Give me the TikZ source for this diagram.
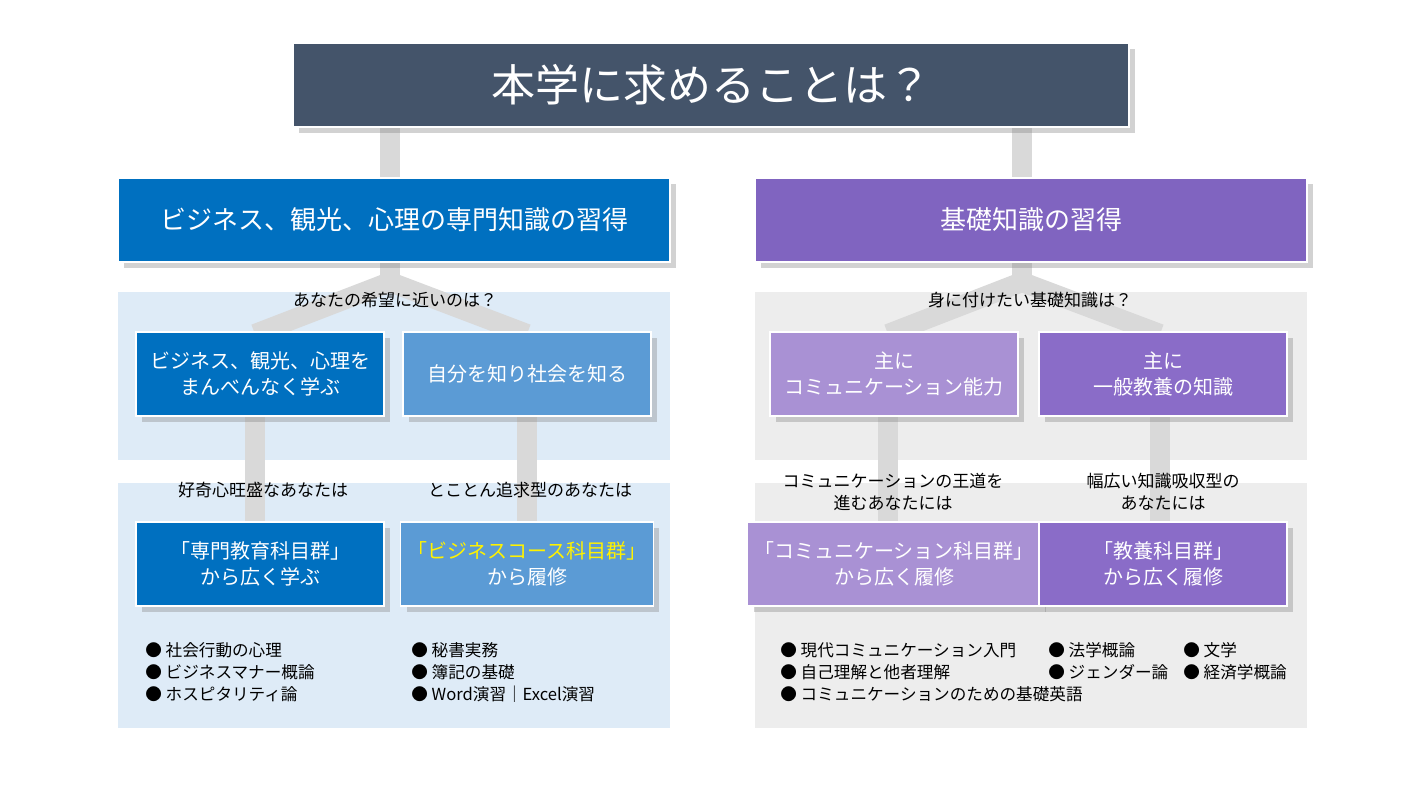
\documentclass[tikz,border=0pt]{standalone}
\usepackage{fontspec}
\setmainfont{Noto Sans CJK JP}
\usetikzlibrary{shadows}
\definecolor{slate}{HTML}{44546A}
\definecolor{bizblue}{HTML}{0070C0}
\definecolor{lightblue}{HTML}{5B9BD5}
\definecolor{purple1}{HTML}{8064C0}
\definecolor{purple2}{HTML}{A991D4}
\definecolor{purple3}{HTML}{8A6CC8}
\definecolor{panelblue}{HTML}{DEEBF7}
\definecolor{panelgray}{HTML}{EDEDED}
\definecolor{linkgray}{HTML}{D9D9D9}
\tikzstyle{titlebox} = [rectangle, draw=white, line width=0.6pt, fill=slate, text=white, minimum width=418pt, minimum height=42pt, font=\fontsize{22}{26}\selectfont, drop shadow={shadow xshift=3pt, shadow yshift=-3pt, opacity=0.35}]
\tikzstyle{mainbox} = [rectangle, draw=white, line width=0.6pt, text=white, minimum width=276pt, minimum height=42pt, font=\fontsize{13}{16}\selectfont, drop shadow={shadow xshift=3pt, shadow yshift=-3pt, opacity=0.35}]
\tikzstyle{subbox} = [rectangle, draw=white, line width=0.6pt, text=white, minimum width=124pt, minimum height=42pt, align=center, font=\fontsize{10}{13}\selectfont, drop shadow={shadow xshift=3pt, shadow yshift=-3pt, opacity=0.35}]
\tikzstyle{panel} = [rectangle, draw=none, minimum width=276pt, anchor=north]
\tikzstyle{label} = [align=center, font=\fontsize{8.5}{11}\selectfont]
\tikzstyle{bullets} = [align=left, anchor=north west, inner sep=0pt, font=\fontsize{8.3}{11}\selectfont]
\tikzstyle{link} = [linkgray, line width=10pt]
\begin{document}
\begin{tikzpicture}[x=0.5pt, y=-0.5pt]
	\useasboundingbox[fill=white] (0,0) rectangle (1422,800);
	% panels
	\node (pLtop) [panel, fill=panelblue, minimum height=84pt] at (394,292) {};
	\node (pLbot) [panel, fill=panelblue, minimum height=122.5pt] at (394,483) {};
	\node (pRtop) [panel, fill=panelgray, minimum height=84pt] at (1031,292) {};
	\node (pRbot) [panel, fill=panelgray, minimum height=122.5pt] at (1031,483) {};
	
	% links
	\coordinate (forkL) at (390,282);
	\coordinate (forkR) at (1022,282);
	\draw [link] (390,128) -- (390,180);
	\draw [link] (1022,128) -- (1022,180);
	\draw [link] (390,260) -- (forkL);
	\draw [link] (forkL) -- (255,334);
	\draw [link] (forkL) -- (527,334);
	\draw [link] (1022,260) -- (forkR);
	\draw [link] (forkR) -- (888,334);
	\draw [link] (forkR) -- (1160,334);
	\draw [link] (255,414) -- (255,524);
	\draw [link] (527,414) -- (527,524);
	\draw [link] (888,414) -- (888,524);
	\draw [link] (1160,414) -- (1160,524);
	
	% boxes
	\node (title) [titlebox] at (711,85) {本学に求めることは？};
	\node (biz) [mainbox, fill=bizblue] at (394,220) {ビジネス、観光、心理の専門知識の習得};
	\node (basic) [mainbox, fill=purple1] at (1031,220) {基礎知識の習得};
	
	\node (askL) [label] at (395,300) {あなたの希望に近いのは？};
	\node (askR) [label] at (1030,300) {身に付けたい基礎知識は？};
	
	\node (broad) [subbox, fill=bizblue] at (260,374) {ビジネス、観光、心理を\\まんべんなく学ぶ};
	\node (self) [subbox, fill=lightblue] at (527,374) {自分を知り社会を知る};
	\node (comm) [subbox, fill=purple2] at (894,374) {主に\\コミュニケーション能力};
	\node (gen) [subbox, fill=purple3] at (1163,374) {主に\\一般教養の知識};
	
	\node (curious) [label] at (263,490) {好奇心旺盛なあなたは};
	\node (deep) [label] at (530,490) {とことん追求型のあなたは};
	\node (royal) [label] at (893,492) {コミュニケーションの王道を\\進むあなたには};
	\node (wide) [label] at (1163,492) {幅広い知識吸収型の\\あなたには};
	
	\node (spec) [subbox, fill=bizblue] at (260,564) {「専門教育科目群」\\から広く学ぶ};
	\node (course) [subbox, fill=lightblue] at (527,564) {\textcolor{yellow}{「ビジネスコース科目群」}\\から履修};
	\node (commc) [subbox, fill=purple2] at (894,564) {「コミュニケーション科目群」\\から広く履修};
	\node (kyo) [subbox, fill=purple3] at (1163,564) {「教養科目群」\\から広く履修};
	
	% lists
	\node (listA) [bullets] at (145,642) {●\ 社会行動の心理\\●\ ビジネスマナー概論\\●\ ホスピタリティ論};
	\node (listB) [bullets] at (411,642) {●\ 秘書実務\\●\ 簿記の基礎\\●\ Word演習｜Excel演習};
	\node (listC) [bullets] at (780,642) {●\ 現代コミュニケーション入門\\●\ 自己理解と他者理解\\●\ コミュニケーションのための基礎英語};
	\node (listD) [bullets] at (1048,642) {●\ 法学概論\\●\ ジェンダー論};
	\node (listE) [bullets] at (1183,642) {●\ 文学\\●\ 経済学概論};
\end{tikzpicture}
\end{document}
